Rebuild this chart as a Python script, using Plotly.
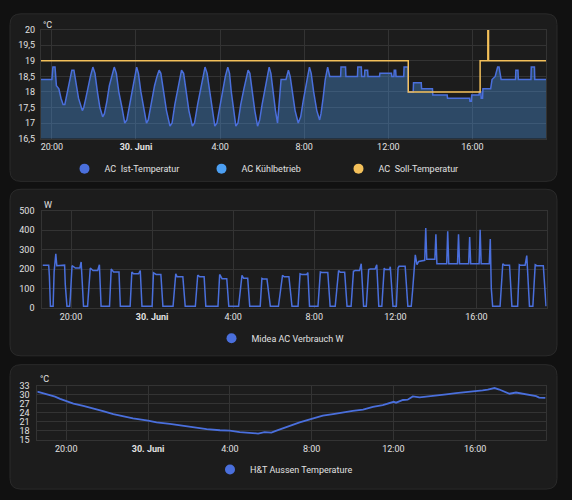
import pandas as pd
import plotly.graph_objects as go

DAY = "2023-06-29"

# AC Ist-Temperatur in °C (Uhrzeiten ab 29.06. abends, laufen über Mitternacht)
ist_times = [
    "19:29", "20:00", "20:03", "20:09", "20:13", "20:20", "20:26", "20:32", "20:37", "20:43",
    "20:49", "20:53", "20:57", "21:03", "21:09", "21:16", "21:27", "21:31", "21:37", "21:44",
    "21:50", "21:57", "22:03", "22:10", "22:17", "22:25", "22:30", "22:37", "22:44", "22:51",
    "22:58", "23:04", "23:11", "23:20", "23:28", "23:34", "23:43", "23:51", "23:57", "00:02",
    "00:07", "00:14", "00:23", "00:30", "00:35", "00:44", "00:53", "01:00", "01:06", "01:11",
    "01:18", "01:27", "01:37", "01:43", "01:51", "02:00", "02:06", "02:10", "02:16", "02:23",
    "02:31", "02:41", "02:47", "02:56", "03:04", "03:11", "03:17", "03:23", "03:30", "03:37",
    "03:45", "03:51", "04:00", "04:08", "04:15", "04:22", "04:27", "04:32", "04:38", "04:45",
    "04:51", "04:59", "05:08", "05:15", "05:20", "05:25", "05:32", "05:39", "05:47", "05:53",
    "06:00", "06:08", "06:15", "06:20", "06:25", "06:31", "06:38", "06:44", "06:49", "06:54",
    "07:08", "07:15", "07:20", "07:27", "07:34", "07:43", "07:50", "07:57", "08:04", "08:10",
    "08:15", "08:20", "08:27", "08:36", "08:44", "08:48", "08:54", "09:00", "09:07", "09:13",
    "09:44", "09:45", "09:58", "09:59", "10:32", "10:33", "10:43", "10:44", "10:52", "10:53",
    "11:01", "11:02", "11:35", "11:36", "12:09", "12:10", "12:16", "12:17", "12:21", "12:22",
    "12:44", "12:45", "12:56", "12:57", "13:11", "13:12", "13:34", "13:35", "14:06", "14:07",
    "14:48", "14:49", "15:52", "15:53", "15:57", "15:58", "16:19", "16:20", "16:24", "16:25",
    "16:29", "16:30", "16:52", "16:56", "17:05", "17:12", "17:16", "17:22", "18:03", "18:04",
    "18:10", "18:11", "18:47", "18:48", "18:57", "18:58", "19:30",
]
ist_values = [
    18.4, 18.4, 18.8, 18.8, 18.2, 18.1, 17.8, 17.6, 17.6, 17.9,
    18.2, 18.4, 18.7, 18.7, 18.3, 17.8, 17.4, 17.5, 17.8, 18.2,
    18.5, 18.8, 18.6, 18.0, 17.5, 17.2, 17.3, 17.7, 18.2, 18.5,
    18.8, 18.6, 18.0, 17.5, 17.0, 17.1, 17.7, 18.2, 18.5, 18.8,
    18.6, 18.0, 17.4, 17.0, 17.1, 17.7, 18.2, 18.5, 18.7, 18.6,
    18.0, 17.4, 16.9, 17.0, 17.6, 18.1, 18.5, 18.7, 18.6, 18.0,
    17.4, 16.9, 17.0, 17.6, 18.1, 18.5, 18.8, 18.6, 18.0, 17.4,
    16.9, 17.0, 17.6, 18.1, 18.5, 18.8, 18.6, 18.0, 17.4, 16.9,
    17.0, 17.6, 18.1, 18.5, 18.7, 18.6, 18.0, 17.4, 16.9, 17.1,
    17.6, 18.1, 18.5, 18.8, 18.6, 18.0, 17.4, 17.0, 17.6, 18.4,
    18.4, 18.7, 18.5, 17.9, 17.4, 17.0, 17.2, 17.7, 18.2, 18.5,
    18.8, 18.6, 18.0, 17.4, 17.1, 17.3, 17.8, 18.4, 18.8, 18.5,
    18.5, 18.8, 18.8, 18.5, 18.5, 18.8, 18.8, 18.5, 18.5, 18.7,
    18.7, 18.5, 18.5, 18.6, 18.6, 18.5, 18.5, 18.7, 18.7, 18.5,
    18.5, 18.8, 18.8, 18.0, 18.0, 18.3, 18.3, 18.1, 18.1, 17.9,
    17.9, 17.8, 17.8, 17.7, 17.7, 17.9, 17.9, 18.0, 18.0, 17.8,
    17.8, 18.1, 18.1, 18.4, 18.5, 18.8, 18.8, 18.4, 18.4, 18.7,
    18.7, 18.4, 18.4, 18.8, 18.8, 18.4, 18.4,
]

# AC Soll-Temperatur in °C (Stufenverlauf)
soll_times = ["19:29", "12:57", "16:22", "16:44", "16:46", "19:30"]
soll_values = [19, 18, 19, 20, 19, 19]

# Midea AC Verbrauch in W
power_times = [
    "18:36", "18:54", "18:56", "18:59", "19:07", "19:10", "19:15", "19:18", "19:41", "19:43",
    "19:48", "19:56", "19:58", "20:03", "20:13", "20:26", "20:30", "20:37", "20:49", "20:57",
    "21:05", "21:19", "21:24", "21:29", "21:54", "21:59", "22:06", "22:22", "22:26", "22:55",
    "23:00", "23:05", "23:20", "23:25", "23:30", "00:00", "00:04", "00:12", "00:26", "00:32",
    "01:02", "01:10", "01:14", "01:31", "01:38", "02:08", "02:15", "02:21", "02:34", "02:39",
    "03:15", "03:20", "03:27", "03:41", "03:47", "04:16", "04:26", "04:31", "04:43", "04:49",
    "05:20", "05:25", "05:30", "05:40", "05:50", "06:14", "06:26", "06:31", "06:45", "06:54",
    "07:12", "07:18", "07:23", "07:38", "07:41", "07:46", "08:11", "08:18", "08:23", "08:40",
    "08:47", "09:02", "09:12", "09:17", "09:30", "09:37", "09:49", "09:56", "10:01", "10:14",
    "10:19", "10:26", "10:34", "10:41", "10:46", "11:00", "11:05", "11:11", "11:20", "11:27",
    "11:30", "11:43", "11:45", "11:53", "12:03", "12:08", "12:11", "12:29", "12:37", "12:47",
    "12:51", "12:59", "13:04", "13:09", "13:27", "13:30", "13:33", "13:57", "14:00", "14:03",
    "14:32", "14:35", "14:38", "15:04", "15:07", "15:10", "15:37", "15:40", "15:43", "16:08",
    "16:11", "16:14", "16:38", "16:41", "16:44", "16:48", "17:10", "17:18", "17:23", "17:38",
    "17:45", "18:02", "18:07", "18:11", "18:24", "18:29", "18:37", "18:47", "18:54", "18:59",
    "19:18", "19:26",
]
power_values = [
    219, 219, 163, 8, 8, 185, 278, 217, 220, 121,
    8, 8, 54, 217, 205, 205, 236, 8, 8, 205,
    192, 192, 222, 8, 8, 200, 185, 185, 8, 8,
    185, 175, 175, 192, 8, 8, 180, 172, 172, 8,
    8, 175, 160, 160, 8, 8, 168, 160, 160, 8,
    8, 172, 150, 150, 8, 8, 167, 152, 152, 8,
    8, 152, 148, 148, 8, 8, 167, 160, 160, 8,
    8, 175, 172, 172, 182, 8, 8, 185, 182, 182,
    8, 8, 192, 183, 183, 8, 8, 188, 192, 192,
    227, 8, 8, 197, 200, 200, 222, 8, 8, 205,
    197, 197, 212, 8, 8, 205, 214, 214, 8, 8,
    88, 273, 222, 239, 245, 411, 250, 250, 379, 227,
    227, 394, 227, 227, 379, 227, 227, 365, 227, 227,
    402, 227, 227, 354, 100, 8, 8, 227, 219, 219,
    8, 8, 222, 219, 219, 269, 8, 8, 222, 217,
    217, 8,
]

# H&T Aussen Temperature in °C
outdoor_times = [
    "18:35", "19:03", "19:27", "19:42", "20:00", "20:21", "20:50", "21:19", "21:48", "22:18",
    "22:47", "23:16", "00:00", "00:25", "01:04", "01:43", "02:12", "02:52", "03:31", "04:00",
    "04:29", "04:58", "05:23", "05:42", "06:02", "06:17", "06:36", "06:56", "07:25", "08:00",
    "08:33", "09:03", "09:32", "10:01", "10:31", "11:00", "11:29", "12:01", "12:08", "12:28",
    "12:42", "12:57", "13:17", "13:36", "14:06", "14:35", "15:04", "15:34", "16:03", "16:22",
    "16:37", "16:57", "17:11", "17:41", "18:00", "18:29", "18:59", "19:08", "19:26",
]
outdoor_values = [
    31.1, 30.3, 29.4, 28.7, 27.9, 27.1, 26.3, 25.5, 24.6, 23.6,
    22.9, 22.2, 21.4, 20.8, 20.3, 19.7, 19.1, 18.6, 18.2, 18.1,
    17.6, 17.2, 17.1, 17.6, 17.4, 18.1, 18.9, 19.7, 20.8, 22.0,
    23.1, 23.6, 24.2, 24.7, 25.1, 26.0, 26.6, 27.7, 27.4, 28.3,
    28.4, 29.5, 29.2, 29.5, 29.8, 30.2, 30.6, 30.9, 31.3, 31.5,
    31.8, 32.3, 31.8, 30.4, 30.8, 30.2, 29.6, 29.1, 29.0,
]

tick_times = ["20:00", "00:00", "04:00", "08:00", "12:00", "16:00"]
tick_labels = ["20:00", "<b>30. Juni</b>", "4:00", "8:00", "12:00", "16:00"]


def to_datetimes(times, start=DAY):
    # Uhrzeiten laufen über Mitternacht -> dann Tag hochzählen
    day = pd.Timestamp(start)
    out = []
    for t in times:
        ts = day + pd.Timedelta(t + ":00")
        if out and ts < out[-1]:
            day += pd.Timedelta(days=1)
            ts += pd.Timedelta(days=1)
        out.append(ts)
    return out


W, H = 572, 500
BLUE = "#4a6fdc"
LIGHT_BLUE = "#4c9ff2"
YELLOW = "#f3c05a"
PAGE_BG = "#111111"
CARD_BG = "#1c1c1c"
GRID = "#333333"
TEXT = "#e1e1e1"


def px(x):
    return x / W


def py(y):
    return 1 - y / H


def card_path(x0, y0, x1, y1, r=11):
    # abgerundetes Rechteck in Papierkoordinaten
    return (
        f"M {px(x0 + r)},{py(y0)} L {px(x1 - r)},{py(y0)} "
        f"Q {px(x1)},{py(y0)} {px(x1)},{py(y0 + r)} L {px(x1)},{py(y1 - r)} "
        f"Q {px(x1)},{py(y1)} {px(x1 - r)},{py(y1)} L {px(x0 + r)},{py(y1)} "
        f"Q {px(x0)},{py(y1)} {px(x0)},{py(y1 - r)} L {px(x0)},{py(y0 + r)} "
        f"Q {px(x0)},{py(y0)} {px(x0 + r)},{py(y0)} Z"
    )


ist_x = to_datetimes(ist_times)
soll_x = to_datetimes(soll_times)
power_x = to_datetimes(power_times)
outdoor_x = to_datetimes(outdoor_times)
ticks = to_datetimes(tick_times)

fig = go.Figure()

# Karte 1: Klima
fig.add_trace(go.Scatter(x=ist_x, y=ist_values, mode="lines", fill="tozeroy",
                         fillcolor="rgba(76,159,242,0.35)", line=dict(width=0),
                         hoverinfo="skip", showlegend=False, xaxis="x", yaxis="y"))
fig.add_trace(go.Scatter(x=ist_x, y=ist_values, mode="lines", name="AC  Ist-Temperatur",
                         line=dict(color=BLUE, width=1.5), showlegend=False,
                         xaxis="x", yaxis="y"))
fig.add_trace(go.Scatter(x=soll_x, y=soll_values, mode="lines", name="AC  Soll-Temperatur",
                         line=dict(color=YELLOW, width=1.5, shape="hv"), showlegend=False,
                         xaxis="x", yaxis="y"))

# Karte 2: Verbrauch
fig.add_trace(go.Scatter(x=power_x, y=power_values, mode="lines", name="Midea AC Verbrauch W",
                         line=dict(color=BLUE, width=1.5), showlegend=False,
                         xaxis="x2", yaxis="y2"))

# Karte 3: Aussentemperatur
fig.add_trace(go.Scatter(x=outdoor_x, y=outdoor_values, mode="lines",
                         name="H&T Aussen Temperature",
                         line=dict(color=BLUE, width=1.8), showlegend=False,
                         xaxis="x3", yaxis="y3"))

# Legenden mit runden Punkten wie im Dashboard
legend_items = [
    ("AC  Ist-Temperatur", BLUE, "legend"),
    ("AC Kühlbetrieb", LIGHT_BLUE, "legend"),
    ("AC  Soll-Temperatur", YELLOW, "legend"),
    ("Midea AC Verbrauch W", BLUE, "legend2"),
    ("H&T Aussen Temperature", BLUE, "legend3"),
]
for name, color, leg in legend_items:
    fig.add_trace(go.Scatter(x=[None], y=[None], mode="markers", name=name,
                             marker=dict(color=color, size=10), legend=leg,
                             xaxis="x", yaxis="y"))

axis_common = dict(showgrid=True, gridcolor=GRID, gridwidth=1, showline=True,
                   linecolor=GRID, mirror=True, zeroline=False, ticks="",
                   tickfont=dict(size=9, color=TEXT), fixedrange=True)


def x_axis(x0, x1, start, end, anchor):
    return dict(axis_common, domain=[px(x0), px(x1)], range=[start, end], type="date",
                tickvals=ticks, ticktext=tick_labels, anchor=anchor)


day0 = pd.Timestamp(DAY)
day1 = day0 + pd.Timedelta(days=1)
start1, end1 = day0 + pd.Timedelta("19:29:00"), day1 + pd.Timedelta("19:30:00")
start2, end2 = day0 + pd.Timedelta("18:35:00"), day1 + pd.Timedelta("19:28:00")

legend_common = dict(orientation="h", xanchor="center", yanchor="middle",
                     bgcolor="rgba(0,0,0,0)", font=dict(size=9, color=TEXT),
                     itemwidth=30)

fig.update_layout(
    width=W, height=H,
    margin=dict(l=0, r=0, t=0, b=0),
    paper_bgcolor=PAGE_BG,
    plot_bgcolor="rgba(0,0,0,0)",
    font=dict(family="Roboto", size=9, color=TEXT),
    separators=",.",
    xaxis=x_axis(41, 546, start1, end1, "y"),
    yaxis=dict(axis_common, domain=[py(136.3), py(25.3)], range=[16.5, 20], dtick=0.5,
               anchor="x", ticklabelstandoff=3),
    xaxis2=x_axis(42.3, 546.7, start2, end2, "y2"),
    yaxis2=dict(axis_common, domain=[py(309), py(210)], range=[0, 500], dtick=100,
                anchor="x2", ticklabelstandoff=5),
    xaxis3=x_axis(37.3, 546, start2, end2, "y3"),
    yaxis3=dict(axis_common, domain=[py(443.7), py(388.7)], range=[15, 33], dtick=3,
                anchor="x3", ticklabelstandoff=5),
    legend=dict(legend_common, x=px(270), y=py(167), entrywidth=92),
    legend2=dict(legend_common, x=px(280), y=py(340)),
    legend3=dict(legend_common, x=px(284), y=py(474)),
    shapes=[
        dict(type="path", path=card_path(10, 9, 557, 180), xref="paper", yref="paper",
             fillcolor=CARD_BG, line=dict(color="#2a2a2a", width=1), layer="below"),
        dict(type="path", path=card_path(10, 188, 557, 358), xref="paper", yref="paper",
             fillcolor=CARD_BG, line=dict(color="#2a2a2a", width=1), layer="below"),
        dict(type="path", path=card_path(10, 367, 557, 494), xref="paper", yref="paper",
             fillcolor=CARD_BG, line=dict(color="#2a2a2a", width=1), layer="below"),
    ],
    annotations=[
        dict(text="°C", x=px(41), y=py(20), xref="paper", yref="paper",
             xanchor="left", yanchor="middle", showarrow=False, font=dict(size=9, color=TEXT)),
        dict(text="W", x=px(42), y=py(204), xref="paper", yref="paper",
             xanchor="left", yanchor="middle", showarrow=False, font=dict(size=9, color=TEXT)),
        dict(text="°C", x=px(38), y=py(382), xref="paper", yref="paper",
             xanchor="left", yanchor="middle", showarrow=False, font=dict(size=9, color=TEXT)),
    ],
)

# Seitenrand entfernen, damit die Karten wie im Dashboard bündig sitzen
fig.write_html("out.html", config={"displayModeBar": False},
               post_script=f"document.body.style.margin='0';"
                           f"document.body.style.background='{PAGE_BG}';")
